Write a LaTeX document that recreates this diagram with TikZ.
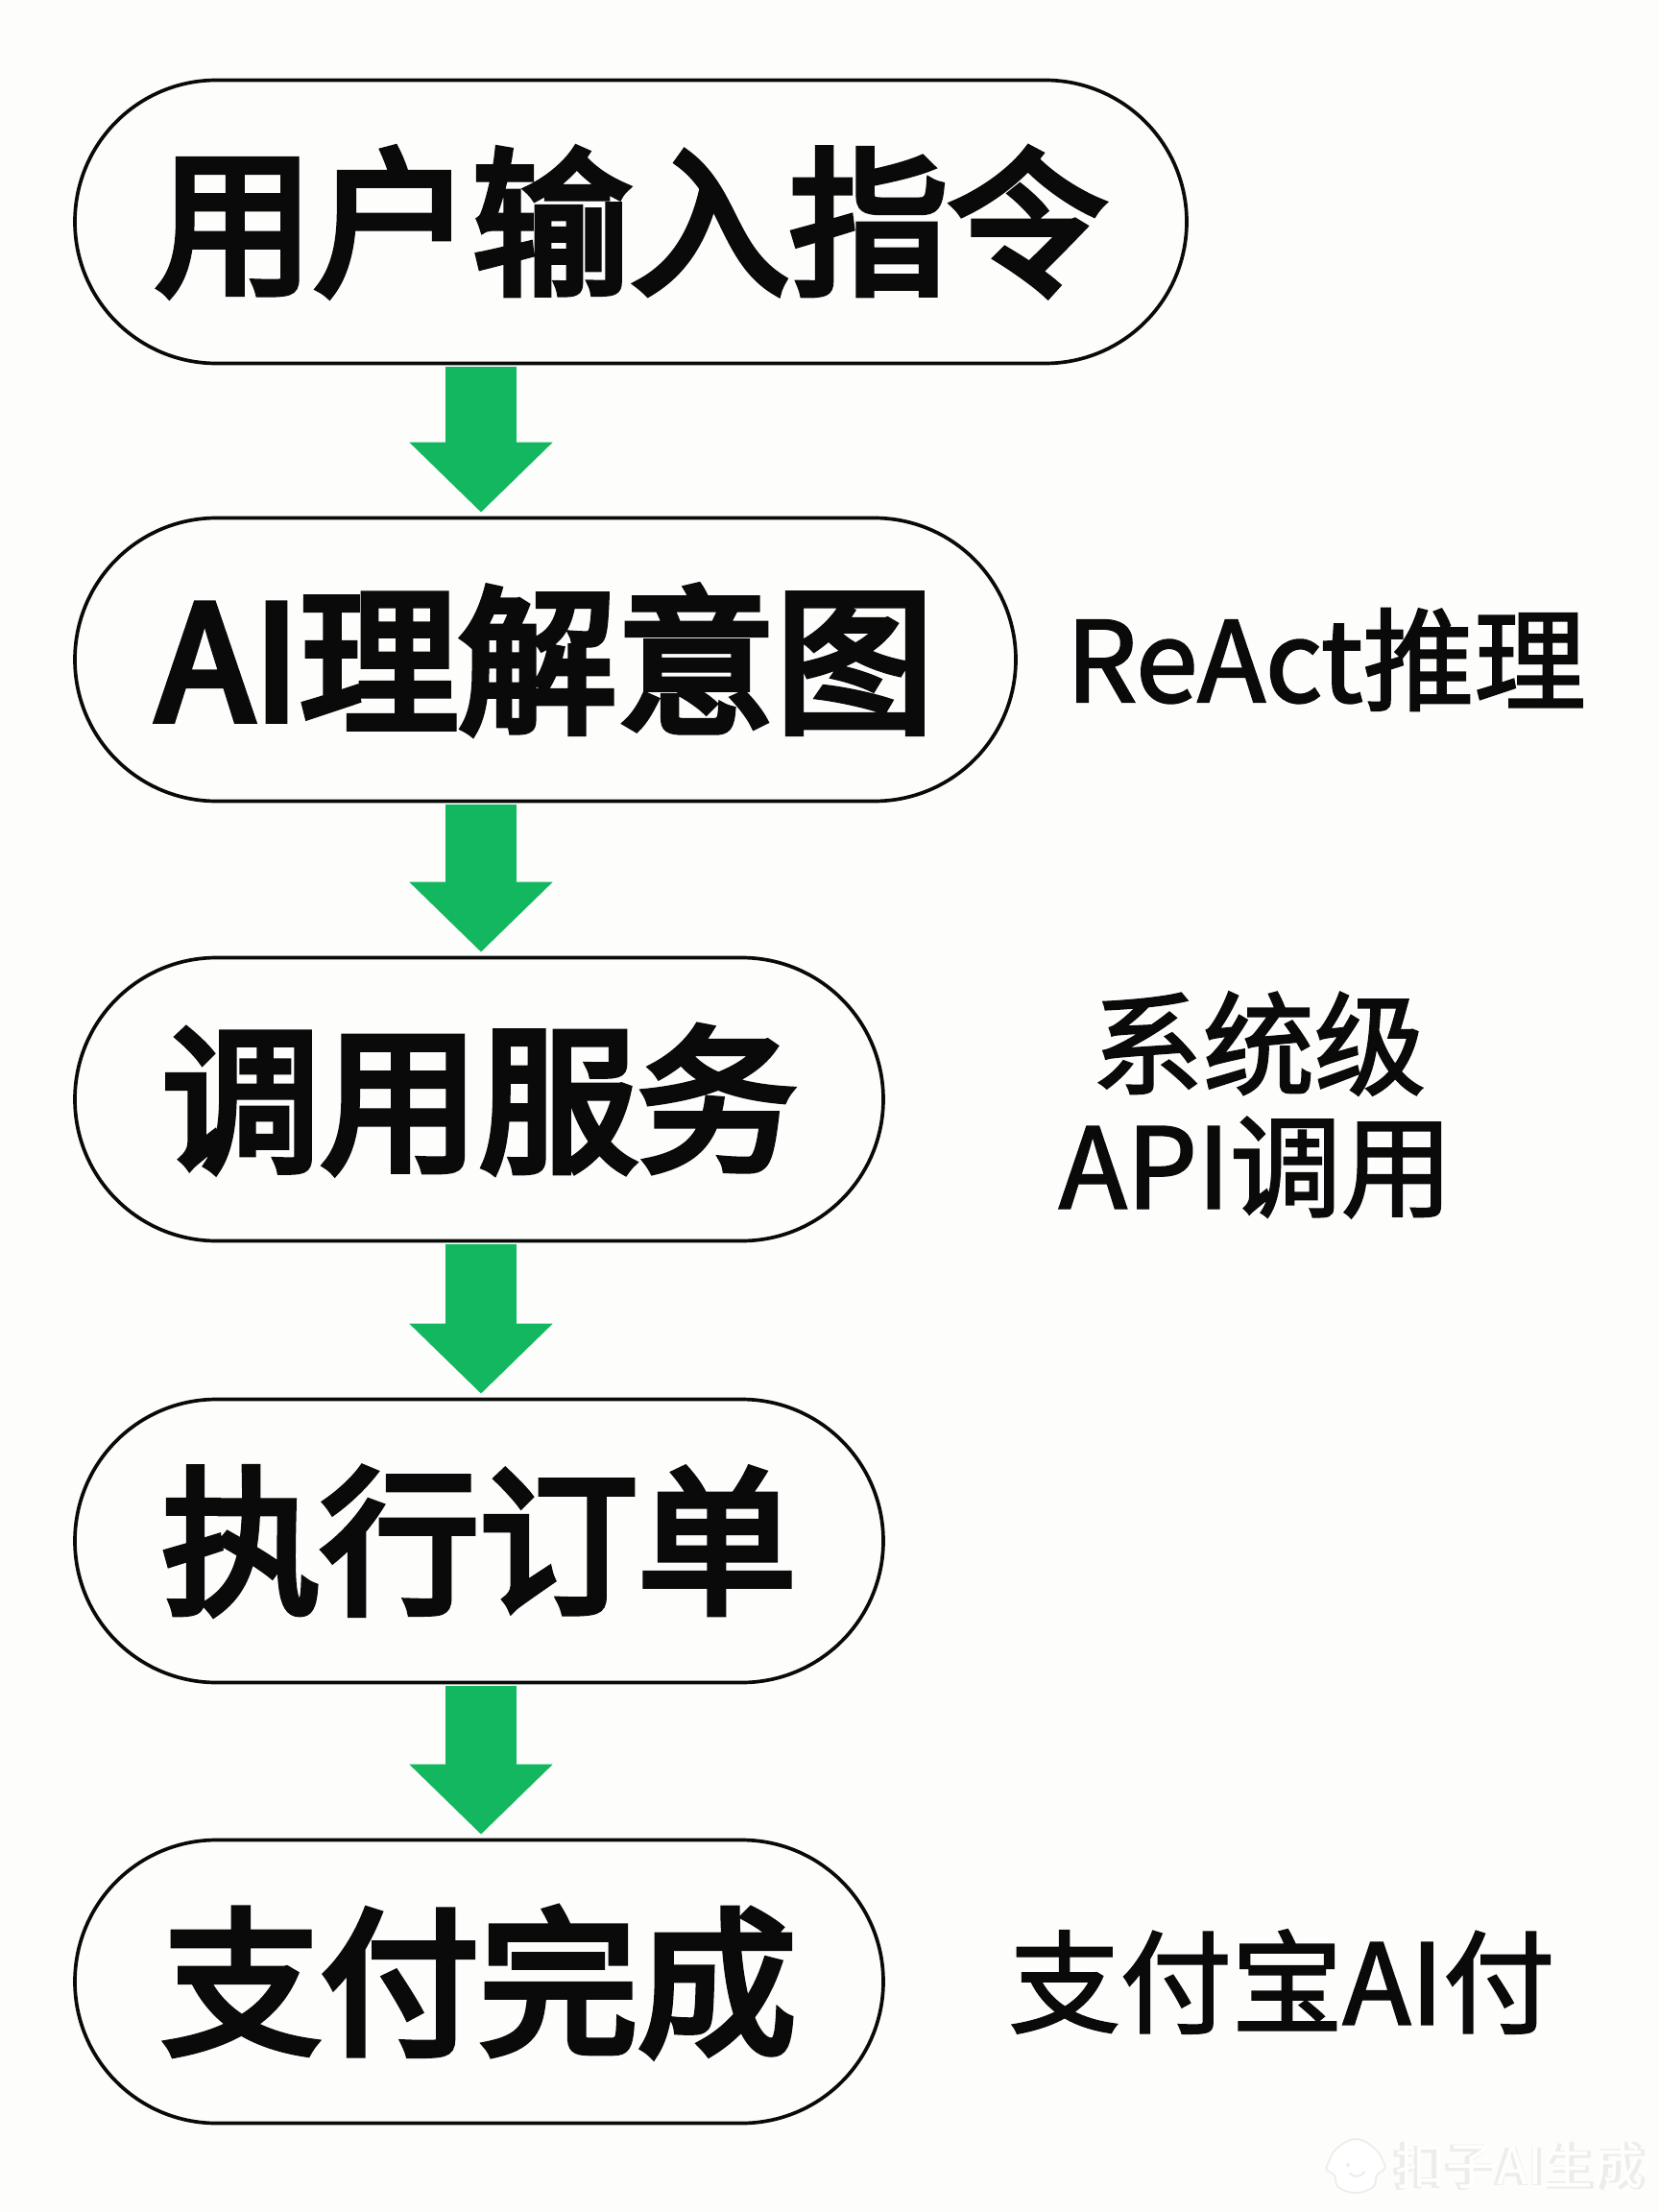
\documentclass[tikz,border=0pt]{standalone}
\usepackage{fontspec}
\usepackage{tikz}
\usetikzlibrary{arrows.meta,shapes.misc}
\setmainfont{Noto Sans CJK SC}
\newfontfamily\boxfont[FakeBold=4.5]{Noto Sans CJK SC}
\newfontfamily\notefont[FakeBold=2]{Noto Sans CJK SC}
\definecolor{flowpaper}{HTML}{FDFDFB}
\definecolor{flowink}  {HTML}{0A0A0A}
\definecolor{flowgreen}{HTML}{12B75F}
\definecolor{flowmark} {HTML}{EDEDEB}
\tikzset{
  flowbox/.style={rounded rectangle, draw=flowink, line width=1.05pt, fill=flowpaper,
    minimum height=2.95cm, inner sep=0pt, text=flowink, font=\fontsize{47}{47}\boxfont},
  flowarrow/.style={draw=flowgreen, line width=0.74cm, shorten <=0.02cm, shorten >=0.04cm,
    -{Triangle[length=0.73cm, width=1.45cm, fill=flowgreen]}},
  sidenote/.style={text=flowink, inner sep=0pt, font=\fontsize{33}{33}\notefont},
}
\begin{document}
\begin{tikzpicture}
  \fill[flowpaper] (0,0) rectangle (17.28,-23.04);
  \useasboundingbox (0,0) rectangle (17.28,-23.04);
  \node[flowbox, minimum width=11.58cm] (input)   at (6.57,-2.31)  {用户输入指令};
  \node[flowbox, minimum width=9.80cm]  (intent)  at (5.68,-6.87)  {AI理解意图};
  \node[flowbox, minimum width=8.42cm]  (service) at (4.99,-11.45) {调用服务};
  \node[flowbox, minimum width=8.42cm]  (order)   at (4.99,-16.05) {执行订单};
  \node[flowbox, minimum width=8.42cm]  (paid)    at (4.99,-20.64) {支付完成};
  \coordinate (axis) at (5.01,0);
  \draw[flowarrow] (input.south -| axis)   -- (intent.north -| axis);
  \draw[flowarrow] (intent.south -| axis)  -- (service.north -| axis);
  \draw[flowarrow] (service.south -| axis) -- (order.north -| axis);
  \draw[flowarrow] (order.south -| axis)   -- (paid.north -| axis);
  \node[sidenote] (react) at (13.81,-6.87)  {ReAct推理};
  \node[sidenote] (sys)   at (13.11,-10.87) {系统级};
  \node[sidenote] (api)   at (13.08,-12.16) {API调用};
  \node[sidenote] (alipay) at (13.35,-20.64) {支付宝AI付};
  % watermark
  \filldraw[fill=white, draw=flowmark, line width=0.5pt]
    plot[smooth cycle, tension=0.7] coordinates
      {(14.12,-22.28) (14.32,-22.38) (14.42,-22.54) (14.41,-22.60) (14.34,-22.66)
       (14.30,-22.78) (14.12,-22.84) (13.94,-22.78) (13.90,-22.66) (13.82,-22.60)
       (13.83,-22.54) (13.92,-22.38)};
  \fill[flowmark] (14.04,-22.55) circle (0.02cm);
  \draw[flowmark, line width=0.6pt, line cap=round] (14.06,-22.64) .. controls (14.10,-22.68) and (14.18,-22.68) .. (14.21,-22.62);
  \node[text=flowmark, font=\fontsize{15}{15}\selectfont\bfseries, inner sep=0pt] (mark) at (15.83,-22.56) {扣子AI生成};
  \node[text=white, font=\fontsize{15}{15}\selectfont, inner sep=0pt] (markface) at (mark) {扣子AI生成};
\end{tikzpicture}
\end{document}
